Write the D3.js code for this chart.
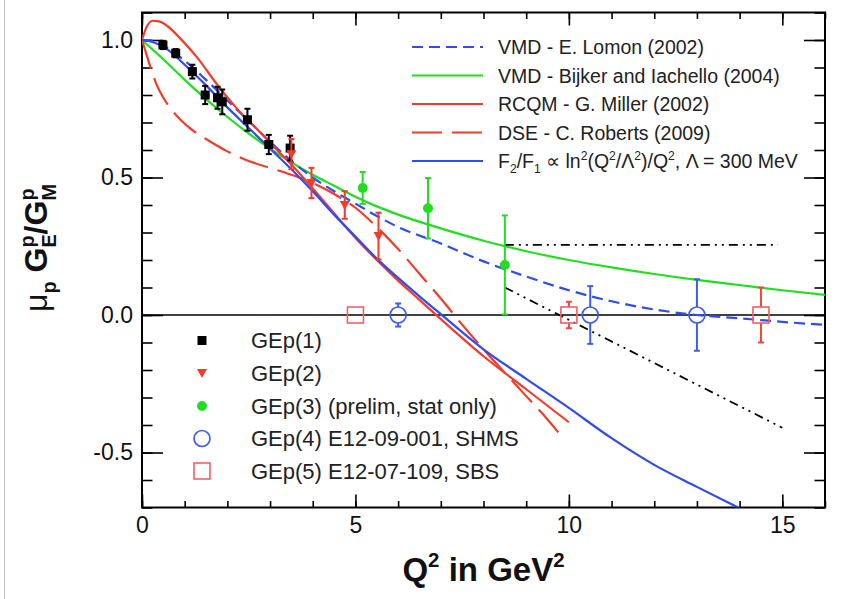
<!DOCTYPE html>
<html><head><meta charset="utf-8">
<script src="https://cdn.jsdelivr.net/npm/d3@7"></script>
<style>
body{margin:0;background:#fff}
text{font-family:"Liberation Sans",Arial,Helvetica,sans-serif}
</style>
</head><body>
<svg id="c" width="846" height="599"></svg>
<script>
// ---------- data ----------
const xTicksMajor = [0, 5, 10, 15];
const yTicksMajor = [-0.5, 0.0, 0.5, 1.0];

const gep1Q2  = [0.49, 0.79, 1.18, 1.48, 1.77, 1.88, 2.47, 2.97, 3.47];
const gep1Val = [0.982, 0.952, 0.885, 0.80, 0.79, 0.775, 0.71, 0.62, 0.607];
const gep1Err = [0.015, 0.015, 0.025, 0.033, 0.04, 0.045, 0.04, 0.035, 0.045];

const gep2Q2  = [3.50, 3.97, 4.75, 5.54];
const gep2Val = [0.585, 0.48, 0.40, 0.287];
const gep2Err = [0.055, 0.055, 0.05, 0.085];

const gep3Q2  = [5.17, 6.70, 8.50];
const gep3Val = [0.462, 0.388, 0.182];
const gep3Err = [0.058, 0.11, 0.18];

const gep4Q2  = [6.0, 10.5, 13.0];
const gep4Val = [0, 0, 0];
const gep4Err = [0.042, 0.105, 0.13];

const gep5Q2  = [5.0, 10.0, 14.5];
const gep5Val = [0, 0, 0];
const gep5Err = [0.005, 0.048, 0.10];

const lomonQ2  = [0,0.3,0.6,1.0,1.5,2.0,2.5,3.0,3.5,4.0,4.5,5.0,5.5,6.0,7.0,8.0,9.0,10.0,11.0,12.0,13.0,14.0,15.0,16.0];
const lomonVal = [1.0,0.995,0.97,0.925,0.855,0.78,0.705,0.63,0.56,0.5,0.45,0.405,0.36,0.32,0.26,0.195,0.14,0.09,0.05,0.02,0.0,-0.012,-0.025,-0.036];

const bijkerQ2  = [0,0.5,1.0,1.5,2.0,2.5,3.0,3.5,4.0,4.5,5.0,5.5,6.0,7.0,8.0,9.0,10.0,11.0,12.0,13.0,14.0,15.0,16.0];
const bijkerVal = [1.0,0.93,0.855,0.785,0.72,0.66,0.605,0.555,0.51,0.47,0.43,0.395,0.365,0.315,0.27,0.232,0.2,0.173,0.149,0.128,0.109,0.09,0.073];

const millerQ2  = [0,0.1,0.25,0.4,0.6,0.9,1.3,1.75,2.2,2.7,3.1,3.6,4.0,4.5,5.0,5.5,6.0,6.5,7.0,8.0,9.0,10.0];
const millerVal = [1.0,1.045,1.07,1.068,1.05,1.005,0.935,0.84,0.755,0.675,0.61,0.53,0.46,0.37,0.28,0.2,0.125,0.055,-0.015,-0.15,-0.27,-0.39];

const robertsQ2  = [0,0.1,0.2,0.35,0.5,0.7,0.9,1.2,1.5,2.0,2.5,3.0,3.5,4.0,4.5,5.0,5.5,6.0,6.5,7.0,7.5,8.0,8.5,9.0,9.5,9.9];
const robertsVal = [1.0,0.95,0.9,0.835,0.79,0.745,0.71,0.67,0.64,0.595,0.56,0.535,0.51,0.48,0.44,0.39,0.32,0.24,0.15,0.06,-0.035,-0.125,-0.21,-0.295,-0.38,-0.455];

const logQ2  = [0,0.3,0.6,1.0,1.5,2.0,2.5,3.0,3.5,4.0,4.5,5.0,5.5,6.0,6.5,7.0,8.0,9.0,10.0,11.0,12.0,13.0,14.0];
const logVal = [1.0,0.99,0.965,0.91,0.835,0.755,0.68,0.605,0.53,0.45,0.365,0.285,0.205,0.135,0.068,0.003,-0.125,-0.232,-0.338,-0.448,-0.545,-0.625,-0.703];

const proj1Q2  = [8.5, 14.9];
const proj1Val = [0.255, 0.255];
const proj2Q2  = [8.5, 15.0];
const proj2Val = [0.10, -0.41];

const topLegendLabels = ["VMD - E. Lomon (2002)", "VMD - Bijker and Iachello (2004)", "RCQM - G. Miller (2002)", "DSE - C. Roberts (2009)"];
const botLegendLabels = ["GEp(1)", "GEp(2)", "GEp(3) (prelim, stat only)", "GEp(4) E12-09-001, SHMS", "GEp(5) E12-07-109, SBS"];

// ---------- setup ----------
const BLUE = "#2f4cf0", RED = "#f23b2b", GREEN = "#22dd22", BLACK = "#000";
const svg = d3.select("#c");
const X0 = 142, X1 = 825, Y0 = 507.5, Y1 = 12.5;
const x = d3.scaleLinear().domain([0, 16]).range([X0, X1]);
const y = d3.scaleLinear().domain([-0.7, 1.1]).range([Y0, Y1]);

svg.append("rect").attr("width", 846).attr("height", 599).attr("fill", "#fff");
svg.append("line").attr("x1", 4.5).attr("x2", 4.5).attr("y1", 0).attr("y2", 599)
  .attr("stroke", "#c4c4c4").attr("stroke-width", 1);

svg.append("clipPath").attr("id", "clip").append("rect")
  .attr("x", X0).attr("y", Y1).attr("width", X1 - X0).attr("height", Y0 - Y1);

// ---------- axes ----------
const xMinor = d3.range(0, 17, 1);
const yMinor = d3.range(-7, 12, 1).map(v => v / 10);
function styleAxis(g) { g.select(".domain").remove(); g.selectAll("line").attr("stroke", BLACK).attr("stroke-width", 1.6); }

svg.append("g").attr("transform", `translate(0,${Y0})`)
  .call(d3.axisBottom(x).tickValues(xMinor).tickSizeInner(-6.5).tickSizeOuter(0).tickFormat(""))
  .call(styleAxis);
const xAx = svg.append("g").attr("transform", `translate(0,${Y0})`)
  .call(d3.axisBottom(x).tickValues(xTicksMajor).tickSizeInner(-13).tickSizeOuter(0).tickPadding(9).tickFormat(d3.format("d")))
  .call(styleAxis);
xAx.selectAll("text").attr("font-size", 23).attr("fill", "#111").attr("font-family", "Liberation Sans, Arial, sans-serif");

svg.append("g").attr("transform", `translate(0,${Y1})`)
  .call(d3.axisTop(x).tickValues(xMinor).tickSizeInner(-6.5).tickSizeOuter(0).tickFormat(""))
  .call(styleAxis);
svg.append("g").attr("transform", `translate(0,${Y1})`)
  .call(d3.axisTop(x).tickValues(xTicksMajor).tickSizeInner(-13).tickSizeOuter(0).tickFormat(""))
  .call(styleAxis);

svg.append("g").attr("transform", `translate(${X0},0)`)
  .call(d3.axisLeft(y).tickValues(yMinor).tickSizeInner(-10.5).tickSizeOuter(0).tickFormat(""))
  .call(styleAxis);
const yAx = svg.append("g").attr("transform", `translate(${X0},0)`)
  .call(d3.axisLeft(y).tickValues(yTicksMajor).tickSizeInner(-21).tickSizeOuter(0).tickPadding(9).tickFormat(v => v.toFixed(1)))
  .call(styleAxis);
yAx.selectAll("text").attr("font-size", 23).attr("fill", "#111").attr("font-family", "Liberation Sans, Arial, sans-serif");

svg.append("g").attr("transform", `translate(${X1},0)`)
  .call(d3.axisRight(y).tickValues(yMinor).tickSizeInner(-10.5).tickSizeOuter(0).tickFormat(""))
  .call(styleAxis);
svg.append("g").attr("transform", `translate(${X1},0)`)
  .call(d3.axisRight(y).tickValues(yTicksMajor).tickSizeInner(-21).tickSizeOuter(0).tickFormat(""))
  .call(styleAxis);

// frame
svg.append("rect").attr("x", X0).attr("y", Y1).attr("width", X1 - X0).attr("height", Y0 - Y1)
  .attr("fill", "none").attr("stroke", BLACK).attr("stroke-width", 2);

// zero line
svg.append("line").attr("x1", X0).attr("x2", X1).attr("y1", y(0)).attr("y2", y(0))
  .attr("stroke", BLACK).attr("stroke-width", 1.6);

// ---------- curves ----------
const plot = svg.append("g").attr("clip-path", "url(#clip)");
function curve(qs, vs, color, dash, w) {
  const pts = qs.map((q, i) => [q, vs[i]]);
  plot.append("path").datum(pts)
    .attr("d", d3.line().x(d => x(d[0])).y(d => y(d[1])).curve(d3.curveMonotoneX))
    .attr("fill", "none").attr("stroke", color).attr("stroke-width", w || 2.2)
    .attr("stroke-dasharray", dash || null);
}
curve(bijkerQ2, bijkerVal, GREEN);
curve(lomonQ2, lomonVal, BLUE, "11,6");
curve(millerQ2, millerVal, RED);
curve(robertsQ2, robertsVal, RED, "30,10");
curve(logQ2, logVal, BLUE);
curve(proj1Q2, proj1Val, BLACK, "9,5,2,5,2,5", 1.8);
curve(proj2Q2, proj2Val, BLACK, "9,5,2,5,2,5", 1.8);

// ---------- data points ----------
const pts = svg.append("g");
function errBars(qs, vs, es, color, gap, w) {
  qs.forEach((q, i) => {
    const cx = x(q), yTop = y(vs[i] + es[i]), yBot = y(vs[i] - es[i]), cy = y(vs[i]);
    const segs = gap > 0 ? [[yTop, cy - gap], [cy + gap, yBot]] : [[yTop, yBot]];
    segs.forEach(s => {
      if (s[1] - s[0] > 0.5) {
        pts.append("line").attr("x1", cx).attr("x2", cx).attr("y1", s[0]).attr("y2", s[1])
          .attr("stroke", color).attr("stroke-width", w || 2);
      }
    });
    if (yBot - yTop > 2 * gap + 1) {
      [yTop, yBot].forEach(yy => pts.append("line").attr("x1", cx - 3).attr("x2", cx + 3)
        .attr("y1", yy).attr("y2", yy).attr("stroke", color).attr("stroke-width", 2));
    }
  });
}
function square(g, cx, cy, s, fill, stroke, sw) {
  g.append("rect").attr("x", cx - s / 2).attr("y", cy - s / 2).attr("width", s).attr("height", s)
    .attr("fill", fill).attr("stroke", stroke || "none").attr("stroke-width", sw || 0);
}
function triDown(g, cx, cy, color) {
  g.append("path").attr("d", `M${cx - 5},${cy - 4}L${cx + 5},${cy - 4}L${cx},${cy + 5}Z`).attr("fill", color);
}
function dot(g, cx, cy, r, fill, stroke, sw) {
  g.append("circle").attr("cx", cx).attr("cy", cy).attr("r", r)
    .attr("fill", fill).attr("stroke", stroke || "none").attr("stroke-width", sw || 0);
}

errBars(gep1Q2, gep1Val, gep1Err, BLACK, 0, 2);
gep1Q2.forEach((q, i) => square(pts, x(q), y(gep1Val[i]), 9, BLACK));
errBars(gep2Q2, gep2Val, gep2Err, RED, 0, 2);
gep2Q2.forEach((q, i) => triDown(pts, x(q), y(gep2Val[i]), RED));
errBars(gep3Q2, gep3Val, gep3Err, GREEN, 0, 2);
gep3Q2.forEach((q, i) => dot(pts, x(q), y(gep3Val[i]), 5, GREEN));
errBars(gep4Q2, gep4Val, gep4Err, "#3d5cf5", 8, 2);
gep4Q2.forEach((q, i) => dot(pts, x(q), y(gep4Val[i]), 8, "none", "#3d5cf5", 1.7));
errBars(gep5Q2, gep5Val, gep5Err, "#f04838", 8, 2);
gep5Q2.forEach((q, i) => square(pts, x(q), y(gep5Val[i]), 16, "none", "#f06262", 1.6));

// ---------- rich text helper ----------
function rich(textSel, parts, fs) {
  let shift = 0, pendingDx = 0;
  parts.forEach(p => {
    const type = p.type || "n";
    const weight = p.bold ? "bold" : null;
    if (type === "stack") {
      const upT = -0.42 * fs, dnT = 0.28 * fs;
      const a = textSel.append("tspan").text(p.sup).attr("font-size", 0.62 * fs)
        .attr("dy", upT - shift).attr("font-weight", weight);
      if (pendingDx) { a.attr("dx", pendingDx); pendingDx = 0; }
      const w1 = a.node().getComputedTextLength();
      const b = textSel.append("tspan").text(p.sub).attr("font-size", 0.62 * fs)
        .attr("dx", -w1).attr("dy", dnT - upT).attr("font-weight", weight);
      const w2 = b.node().getComputedTextLength();
      shift = dnT;
      if (w1 > w2) pendingDx = w1 - w2;
      return;
    }
    const target = type === "sup" ? -0.42 * fs : type === "sub" ? 0.28 * fs : 0;
    const t = textSel.append("tspan").text(p.t).attr("dy", target - shift).attr("font-weight", weight);
    if (type !== "n") t.attr("font-size", 0.62 * fs);
    if (pendingDx) { t.attr("dx", pendingDx); pendingDx = 0; }
    shift = target;
  });
}

// ---------- axis titles ----------
const xt = svg.append("text").attr("x", (X0 + X1) / 2).attr("y", 581).attr("text-anchor", "middle")
  .attr("font-size", 33).attr("font-weight", "bold").attr("fill", "#111");
rich(xt, [{t: "Q", bold: true}, {t: "2", type: "sup", bold: true}, {t: " in GeV", bold: true}, {t: "2", type: "sup", bold: true}], 33);

const yt = svg.append("text").attr("transform", "translate(47,248) rotate(-90)").attr("text-anchor", "middle")
  .attr("font-size", 32).attr("fill", "#111");
rich(yt, [{t: "μ"}, {t: "p", type: "sub", bold: true}, {t: " G", bold: true}, {type: "stack", sup: "p", sub: "E", bold: true},
  {t: "/G", bold: true}, {type: "stack", sup: "p", sub: "M", bold: true}], 32);

// ---------- top-right legend ----------
const legTop = svg.append("g");
const topStyles = [[BLUE, "11,6"], [GREEN, null], [RED, null], [RED, "30,10"], [BLUE, null]];
const topRows = [47, 75.5, 104, 132.5, 161];
topStyles.forEach((s, i) => {
  legTop.append("line").attr("x1", 412).attr("x2", 483).attr("y1", topRows[i]).attr("y2", topRows[i])
    .attr("stroke", s[0]).attr("stroke-width", 2.2).attr("stroke-dasharray", s[1]);
});
topLegendLabels.forEach((lab, i) => {
  legTop.append("text").attr("x", 498).attr("y", topRows[i] + 7).attr("font-size", 19.5).attr("fill", "#222").text(lab);
});
const ft = legTop.append("text").attr("x", 498).attr("y", topRows[4] + 7).attr("font-size", 19.5).attr("fill", "#222");
rich(ft, [{t: "F"}, {t: "2", type: "sub"}, {t: "/F"}, {t: "1", type: "sub"}, {t: " ∝ ln"}, {t: "2", type: "sup"},
  {t: "(Q"}, {t: "2", type: "sup"}, {t: "/Λ"}, {t: "2", type: "sup"}, {t: ")/Q"}, {t: "2", type: "sup"},
  {t: ", Λ = 300 MeV"}], 19.5);

// ---------- bottom-left legend ----------
const legBot = svg.append("g");
const botRows = [340.5, 373, 406, 438.5, 471];
square(legBot, 202, botRows[0], 9, BLACK);
triDown(legBot, 202, botRows[1], RED);
dot(legBot, 202, botRows[2], 5, GREEN);
dot(legBot, 202, botRows[3], 8, "none", "#3d5cf5", 1.7);
square(legBot, 202, botRows[4], 16, "none", "#f06262", 1.6);
botLegendLabels.forEach((lab, i) => {
  legBot.append("text").attr("x", 251).attr("y", botRows[i] + 7.5).attr("font-size", 22).attr("fill", "#222").text(lab);
});
</script>
</body></html>
